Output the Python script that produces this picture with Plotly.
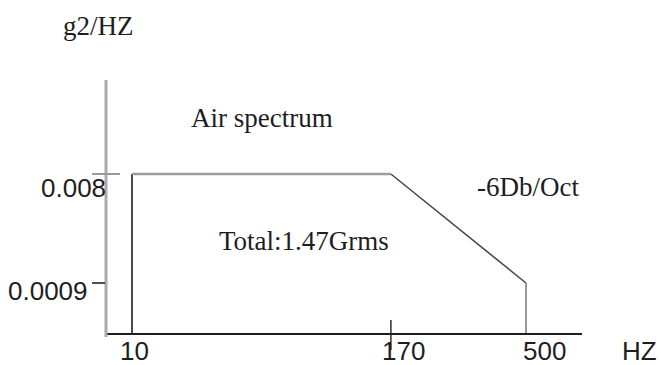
import math
import plotly.graph_objects as go

# ---------------- data ----------------
freq_hz = [10, 170, 500]                 # break-point frequencies
psd_g2hz = [0.008, 0.008, 0.0009]        # PSD level at each break point
x_tick_labels = ["10", "170", "500"]
y_tick_vals = [0.008, 0.0009]
y_tick_labels = ["0.008", "0.0009"]
y_unit = "g2/HZ"
x_unit = "HZ"
note_air = "Air spectrum"
note_total = "Total:1.47Grms"
note_slope = "-6Db/Oct"

# ---------------- layout geometry (pixels) ----------------
W, H = 661, 365
L, R, T, B = 106, 582, 80, 333
P = 0.165  # schematic (compressed) frequency scale


def xt(f):
    return f ** P


def pxx(x):
    return (x - L) / (R - L)


def pxy(y):
    return (B - y) / (B - T)


# x range: 10 Hz at px 132, 500 Hz at px 526
x_lo, x_hi = xt(freq_hz[0]), xt(freq_hz[-1])
span = x_hi - x_lo
x_range = [x_lo - span * 26 / 394, x_hi + span * 56 / 394]

# y (log) range: 0.008 at px 174, 0.0009 at px 283
y_hi_l, y_lo_l = math.log10(max(psd_g2hz)), math.log10(min(psd_g2hz))
yspan = y_hi_l - y_lo_l
y_range = [y_lo_l - yspan * 50 / 109, y_hi_l + yspan * 94 / 109]
y_bottom = 10 ** y_range[0]

fig = go.Figure()

# spectrum outline: rise at 10 Hz, flat, -6 dB/oct roll-off, drop at 500 Hz
verts_x = [freq_hz[0]] + freq_hz + [freq_hz[-1]]
verts_y = [y_bottom] + psd_g2hz + [y_bottom]
seg_colors = ["#1c1c1c", "#9c9c9c", "#4a4a4a", "#8c8c8c"]
seg_widths = [1.6, 2.4, 1.6, 1.8]
for i in range(len(verts_x) - 1):
    fig.add_trace(go.Scatter(
        x=[xt(verts_x[i]), xt(verts_x[i + 1])],
        y=[verts_y[i], verts_y[i + 1]],
        mode="lines",
        line=dict(color=seg_colors[i], width=seg_widths[i]),
        hoverinfo="skip", showlegend=False, cliponaxis=False,
    ))

shapes = []
# y axis line (grey, extends slightly below the x axis)
shapes.append(dict(type="line", xref="paper", yref="paper",
                   x0=0, x1=0, y0=pxy(337), y1=1,
                   line=dict(color="#ababab", width=3)))
# y ticks
ytick_style = [dict(x0=pxx(92), x1=pxx(120), color="#9a9a9a", w=2),
               dict(x0=pxx(92), x1=pxx(105), color="#222222", w=1.6)]
for v, st in zip(y_tick_vals, ytick_style):
    shapes.append(dict(type="line", xref="paper", yref="y",
                       x0=st["x0"], x1=st["x1"], y0=v, y1=v,
                       line=dict(color=st["color"], width=st["w"])))
# x tick at 170 (crosses axis)
shapes.append(dict(type="line", xref="x", yref="paper",
                   x0=xt(freq_hz[1]), x1=xt(freq_hz[1]),
                   y0=pxy(350), y1=pxy(320),
                   line=dict(color="#222222", width=1.4)))

annotations = []
sans = dict(family="Liberation Sans, Arial, sans-serif", size=26, color="#1e1e1e")
serif = dict(family="Liberation Serif, Times New Roman, serif", size=27, color="#1e1e1e")

# x tick labels
x_label_shift = [2, 13, 18]
for f, lab, sh in zip(freq_hz, x_tick_labels, x_label_shift):
    annotations.append(dict(x=xt(f), y=pxy(351), xref="x", yref="paper",
                            text=lab, showarrow=False, xanchor="center",
                            yanchor="middle", xshift=sh, font=sans))
# y tick labels
y_label_pos = [(108, 188), (90, 291)]
for lab, (rx, cy) in zip(y_tick_labels, y_label_pos):
    annotations.append(dict(x=pxx(rx), y=pxy(cy), xref="paper", yref="paper",
                            text=lab, showarrow=False, xanchor="right",
                            yanchor="middle", font=sans))

# unit labels and notes
annotations.append(dict(x=pxx(98), y=pxy(26), xref="paper", yref="paper",
                        text=y_unit, showarrow=False, xanchor="center",
                        yanchor="middle", font=serif))
annotations.append(dict(x=pxx(639), y=pxy(351), xref="paper", yref="paper",
                        text=x_unit, showarrow=False, xanchor="center",
                        yanchor="middle", font=sans))
annotations.append(dict(x=pxx(261.5), y=pxy(118), xref="paper", yref="paper",
                        text=note_air, showarrow=False, xanchor="center",
                        yanchor="middle", font=serif))
annotations.append(dict(x=pxx(303.5), y=pxy(241), xref="paper", yref="paper",
                        text=note_total, showarrow=False, xanchor="center",
                        yanchor="middle", font=serif))
annotations.append(dict(x=pxx(527.5), y=pxy(186.5), xref="paper", yref="paper",
                        text=note_slope, showarrow=False, xanchor="center",
                        yanchor="middle", font=serif))

fig.update_layout(
    width=W, height=H,
    margin=dict(l=L, r=W - R, t=T, b=H - B, pad=0),
    paper_bgcolor="white", plot_bgcolor="white",
    showlegend=False,
    shapes=shapes, annotations=annotations,
    xaxis=dict(range=x_range, showgrid=False, zeroline=False,
               showticklabels=False, ticks="", showline=True,
               linecolor="#1e1e1e", linewidth=1.6, fixedrange=True),
    yaxis=dict(type="log", range=y_range, showgrid=False, zeroline=False,
               showticklabels=False, ticks="", showline=False,
               fixedrange=True),
)

fig.write_html(
    "out.html",
    config={"displayModeBar": False},
    post_script="document.body.style.margin='0px';document.body.style.overflow='hidden';",
)
